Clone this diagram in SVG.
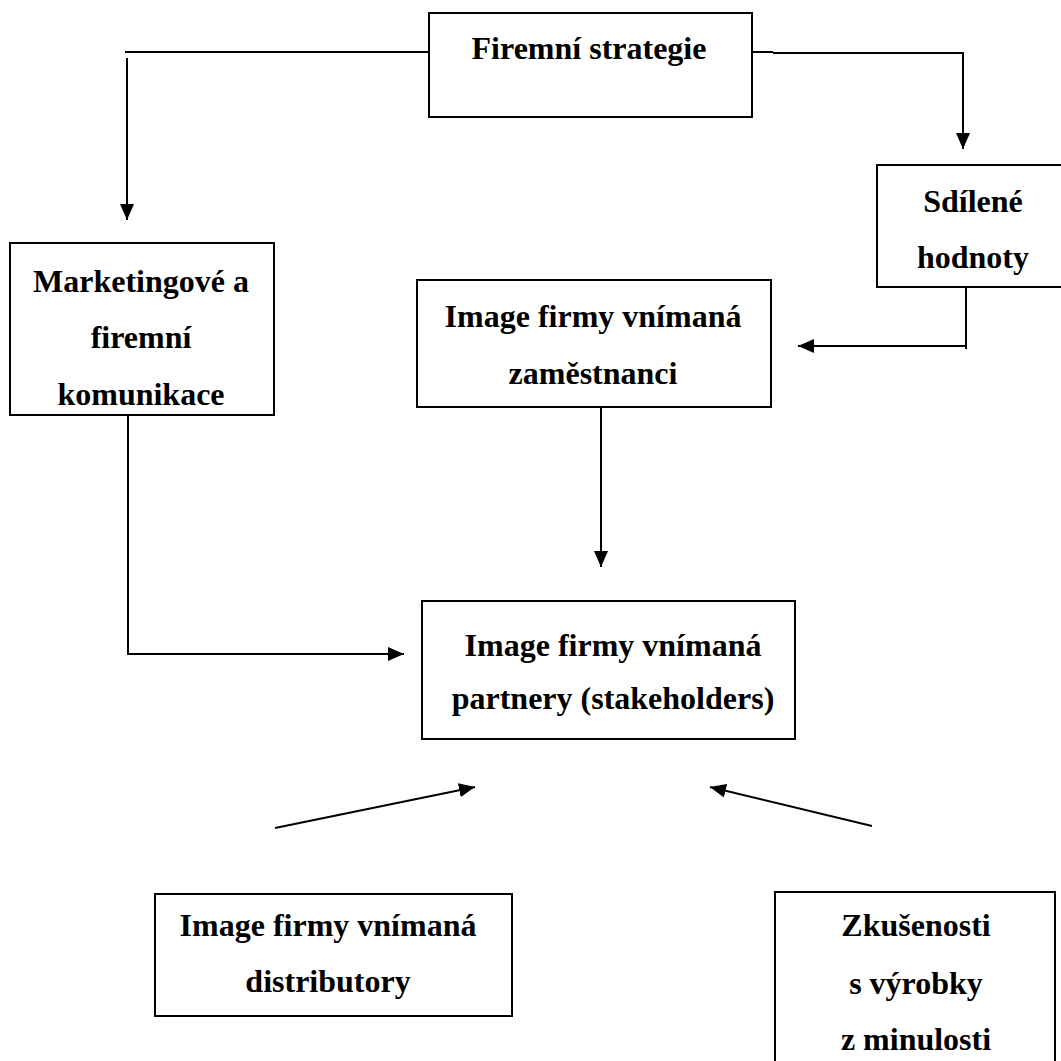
<svg xmlns="http://www.w3.org/2000/svg" width="1061" height="1061" viewBox="0 0 1061 1061">
<defs>
<marker id="ah" viewBox="0 0 16 14" refX="16" refY="7" markerWidth="16" markerHeight="14" markerUnits="userSpaceOnUse" orient="auto">
<path d="M0,0 L16,7 L0,14 Z" fill="#000"/>
</marker>
</defs>
<style>
.box{fill:#fff;stroke:#000;stroke-width:2}
.t{font-family:"Liberation Serif","Times New Roman",serif;font-weight:bold;font-size:32px;text-anchor:middle;fill:#000}
.c{fill:none;stroke:#000;stroke-width:2}
</style>
<rect width="1061" height="1061" fill="#fff"/>
<g id="connectors">
<path class="c" d="M125,52 H429"/>
<path class="c" d="M127,58 V220" marker-end="url(#ah)"/>
<path class="c" d="M752,52 H773 M773,53 H963 V149" marker-end="url(#ah)"/>
<path class="c" d="M966,287 V349"/>
<path class="c" d="M966,346 H798" marker-end="url(#ah)"/>
<path class="c" d="M128,415 V654 H404" marker-end="url(#ah)"/>
<path class="c" d="M601,407 V567" marker-end="url(#ah)"/>
<path class="c" d="M275,828 L475,787" marker-end="url(#ah)"/>
<path class="c" d="M872,826 L710,787" marker-end="url(#ah)"/>
</g>
<g id="n-strategie"><rect class="box" x="429" y="13" width="323" height="104"/><text class="t" x="589" y="59">Firemní strategie</text></g>
<g id="n-hodnoty"><rect class="box" x="877" y="165" width="190" height="122"/><text class="t" x="973" y="212">Sdílené</text><text class="t" x="973" y="268">hodnoty</text></g>
<g id="n-zamestnanci"><rect class="box" x="417" y="280" width="354" height="127"/><text class="t" x="593" y="327">Image firmy vnímaná</text><text class="t" x="593" y="384">zaměstnanci</text></g>
<g id="n-marketing"><rect class="box" x="10" y="243" width="264" height="172"/><text class="t" x="141" y="292">Marketingové a</text><text class="t" x="141" y="348">firemní</text><text class="t" x="141" y="405">komunikace</text></g>
<g id="n-partnery"><rect class="box" x="422" y="601" width="373" height="138"/><text class="t" x="613" y="656">Image firmy vnímaná</text><text class="t" x="613" y="709">partnery (stakeholders)</text></g>
<g id="n-distributory"><rect class="box" x="155" y="894" width="357" height="122"/><text class="t" x="328" y="936">Image firmy vnímaná</text><text class="t" x="328" y="992">distributory</text></g>
<g id="n-zkusenosti"><rect class="box" x="775" y="892" width="280" height="180"/><text class="t" x="916" y="936">Zkušenosti</text><text class="t" x="916" y="994">s výrobky</text><text class="t" x="916" y="1050">z minulosti</text></g>
</svg>
